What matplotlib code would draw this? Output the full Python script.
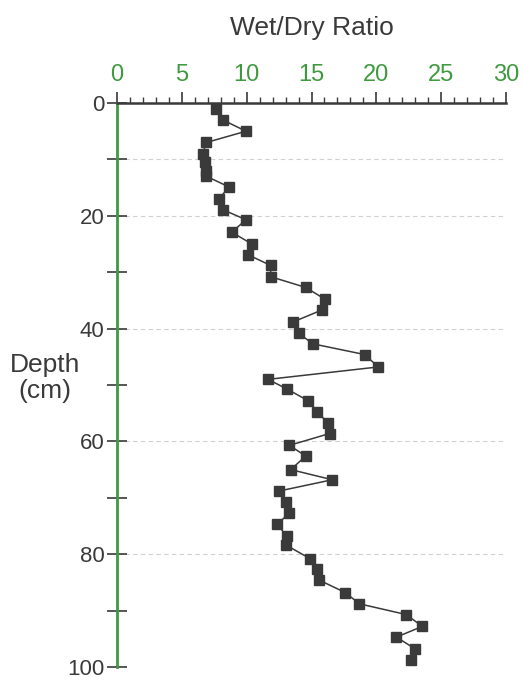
import matplotlib.pyplot as plt
from matplotlib.ticker import MultipleLocator

# Wet/dry ratio down the core
depth = [1.0, 3.0, 5.0, 7.0, 9.0, 10.5, 12.0, 13.0, 14.9, 17.0, 18.9, 20.7,
         22.9, 25.0, 26.9, 28.8, 30.8, 32.7, 34.8, 36.7, 38.8, 40.8, 42.7,
         44.6, 46.8, 49.0, 50.7, 52.8, 54.8, 56.8, 58.6, 60.7, 62.6, 65.0,
         66.8, 68.8, 70.8, 72.7, 74.7, 76.8, 78.4, 80.8, 82.7, 84.6, 86.8,
         88.8, 90.7, 92.8, 94.7, 96.8, 98.8]
ratio = [7.6, 8.15, 9.95, 6.9, 6.6, 6.8, 6.85, 6.9, 8.65, 7.85, 8.15, 9.95,
         8.85, 10.4, 10.1, 11.85, 11.85, 14.55, 16.05, 15.8, 13.6, 14.0, 15.1,
         19.1, 20.15, 11.65, 13.1, 14.75, 15.45, 16.3, 16.4, 13.3, 14.55, 13.4,
         16.6, 12.5, 13.0, 13.3, 12.35, 13.1, 13.05, 14.9, 15.45, 15.6, 17.6,
         18.7, 22.3, 23.55, 21.55, 23.0, 22.7]
grid_depths = [10, 20, 40, 60, 80]
x_ticks = [0, 5, 10, 15, 20, 25, 30]
y_ticks = [0, 20, 40, 60, 80, 100]

green = "#3f9a3f"
dark = "#3a3a3a"
plt.rcParams['font.family'] = ['Liberation Sans', 'DejaVu Sans']

fig = plt.figure(figsize=(5.24, 6.81), dpi=100)
ax = fig.add_axes([117 / 524, 14 / 681, 389 / 524, 564 / 681])

# faint dashed reference lines
for d in grid_depths:
    ax.axhline(d, color="#d0d0d0", lw=0.8, ls=(0, (4, 3)), zorder=0)

ax.plot(ratio, depth, color=dark, lw=1.1, marker="s", ms=7.2,
        mfc=dark, mec=dark, zorder=3)

ax.set_xlim(0, 30)
ax.set_ylim(100, 0)

# x axis on top
ax.xaxis.tick_top()
ax.xaxis.set_label_position("top")
ax.set_xticks(x_ticks)
ax.xaxis.set_minor_locator(MultipleLocator(1))
ax.tick_params(axis="x", which="major", direction="out", length=8, width=1.2,
               color=dark, labelcolor=green, labelsize=17, pad=4)
ax.tick_params(axis="x", which="minor", direction="out", length=4, width=1.0,
               color=dark)
ax.set_xlabel("Wet/Dry Ratio", fontsize=19, color=dark, labelpad=21)

# depth axis
ax.set_yticks(y_ticks)
ax.yaxis.set_minor_locator(MultipleLocator(10))
ax.tick_params(axis="y", which="both", direction="inout", length=14,
               width=1.2, color=dark, labelcolor=dark, labelsize=16, pad=2)
ax.text(-0.185, 0.513, "Depth\n(cm)", transform=ax.transAxes, ha="center",
        va="center", fontsize=19, color=dark, linespacing=1.1)

for side in ["right", "bottom"]:
    ax.spines[side].set_visible(False)
ax.spines["left"].set_color(green)
ax.spines["left"].set_linewidth(2.0)
ax.spines["top"].set_color(dark)
ax.spines["top"].set_linewidth(1.8)

fig.savefig("out.png", dpi=100)
